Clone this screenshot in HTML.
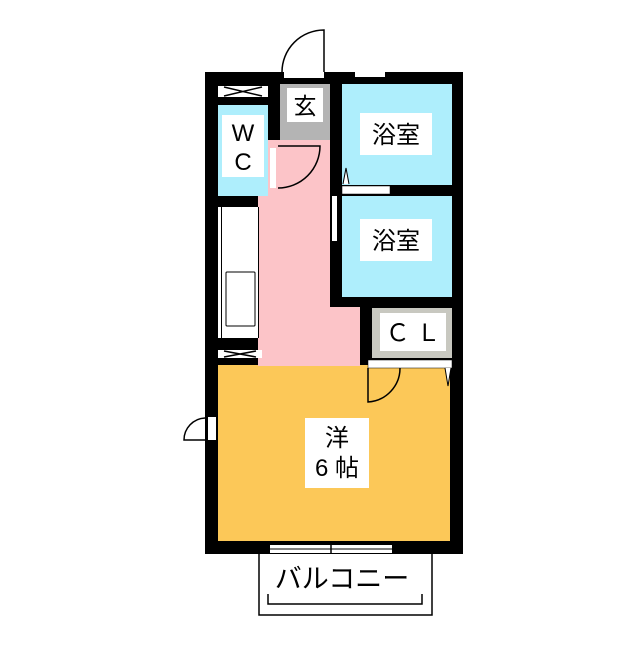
<!DOCTYPE html>
<html><head><meta charset="utf-8"><style>
body{margin:0;background:#fff}
svg text{font-family:"Liberation Sans","Noto Sans CJK JP",sans-serif}
</style></head><body>
<svg width="640" height="640" viewBox="0 0 640 640" xmlns="http://www.w3.org/2000/svg">
<rect width="640" height="640" fill="#fff"/>
<rect x="205" y="72" width="258" height="482" fill="#000"/>
<rect x="218" y="365" width="232" height="176" fill="#fcc858"/>
<rect x="258" y="140" width="72" height="226" fill="#fcc4c8"/>
<rect x="330" y="307" width="30" height="59" fill="#fcc4c8"/>
<rect x="218" y="105" width="50" height="91" fill="#aeeefc"/>
<rect x="280" y="84" width="50" height="56" fill="#b4b4b4"/>
<rect x="342" y="84" width="110" height="101" fill="#aeeefc"/>
<rect x="342" y="196" width="110" height="101" fill="#aeeefc"/>
<rect x="372" y="308" width="80" height="50" fill="#c8c8c0"/>
<rect x="218" y="207" width="41" height="131" fill="#fff"/>
<line x1="221.5" y1="207" x2="221.5" y2="338" stroke="#000" stroke-width="1"/>
<line x1="258.5" y1="207" x2="258.5" y2="338" stroke="#000" stroke-width="1"/>
<rect x="226" y="272" width="29" height="54" rx="1" fill="#fff" stroke="#000" stroke-width="1"/>
<rect x="218" y="86" width="50" height="11" fill="#fff"/>
<path d="M224 87 L262 96 M224 96 L262 87" stroke="#000" stroke-width="1.5"/>
<rect x="218" y="350" width="44" height="8" fill="#fff"/>
<path d="M224 351 L256 357 M224 357 L256 351" stroke="#000" stroke-width="1.5"/>
<rect x="284" y="72" width="40" height="6" fill="#fff"/>
<path d="M282 72 A42 42 0 0 1 324 30 L324 72" fill="none" stroke="#000" stroke-width="1.5"/>
<rect x="355" y="72" width="30" height="5" fill="#fff"/>
<rect x="270" y="148" width="6" height="40" fill="#fff"/>
<path d="M278 188 A42 42 0 0 0 320 146 L278 146" fill="none" stroke="#000" stroke-width="1.5"/>
<rect x="342" y="186" width="48" height="8" fill="#fff" stroke="#000" stroke-width="0.5"/>
<rect x="332" y="196" width="5" height="45" fill="#fff"/>
<path d="M343 184 L346 168 L349 184" fill="#fff" stroke="#000" stroke-width="1"/>
<rect x="368" y="360" width="84" height="8" fill="#fff" stroke="#000" stroke-width="0.5"/>
<path d="M368 368 L368 402 A34 34 0 0 0 400 368" fill="none" stroke="#000" stroke-width="1.5"/>
<path d="M445 368 L448 386 L451 368" fill="#fff" stroke="#000" stroke-width="1"/>
<rect x="208" y="417" width="8" height="23" fill="#fff"/>
<path d="M205 440 L184 440 A22 22 0 0 1 205 418" fill="none" stroke="#000" stroke-width="1.5"/>
<rect x="270" y="545" width="122" height="8" fill="#fff"/>
<line x1="270" y1="549" x2="392" y2="549" stroke="#000" stroke-width="1"/>
<line x1="331" y1="545" x2="331" y2="553" stroke="#000" stroke-width="1.5"/>
<path d="M259 553 L259 615 L432 615 L432 553" fill="none" stroke="#000" stroke-width="1.5"/>
<path d="M268 594 L268 604 L422 604 L422 594" fill="none" stroke="#000" stroke-width="1.5"/>
<text x="342" y="588" font-size="27" text-anchor="middle">バルコニー</text>
<rect x="287" y="88" width="36" height="34" fill="#fff"/>
<text x="305" y="114" font-size="23" text-anchor="middle">玄</text>
<rect x="222" y="115" width="42" height="62" fill="#fff"/>
<text x="243" y="141" font-size="24" text-anchor="middle">W</text>
<text x="243" y="170" font-size="24" text-anchor="middle">C</text>
<rect x="360" y="113" width="72" height="42" fill="#fff"/>
<text x="396" y="143" font-size="24" text-anchor="middle">浴室</text>
<rect x="360" y="219" width="72" height="42" fill="#fff"/>
<text x="396" y="249" font-size="24" text-anchor="middle">浴室</text>
<rect x="380" y="313" width="66" height="38" fill="#fff"/>
<text x="413" y="341" font-size="24" text-anchor="middle">Ｃ Ｌ</text>
<rect x="305" y="418" width="64" height="70" fill="#fff"/>
<text x="337" y="446" font-size="24" text-anchor="middle">洋</text>
<text x="337" y="476" font-size="24" text-anchor="middle">6 帖</text>
</svg>
</body></html>
